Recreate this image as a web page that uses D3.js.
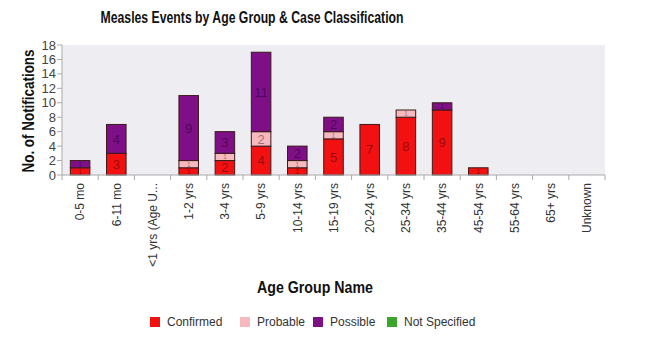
<!DOCTYPE html>
<html><head><meta charset="utf-8">
<script src="https://cdn.jsdelivr.net/npm/d3@7"></script>
<style>body{margin:0;background:#fff}svg{display:block}</style>
</head><body><svg id="c" width="650" height="338"></svg>
<script>
const categories = ["0-5 mo","6-11 mo","<1 yrs (Age U...","1-2 yrs","3-4 yrs","5-9 yrs","10-14 yrs","15-19 yrs","20-24 yrs","25-34 yrs","35-44 yrs","45-54 yrs","55-64 yrs","65+ yrs","Unknown"];
const seriesNames = ["Confirmed","Probable","Possible","Not Specified"];
const seriesColors = ["#f21010","#f7b8be","#7f0f87","#3aa52a"];
const confirmed    = [1,3,0,1,2,4,1,5,7,8,9,1,0,0,0];
const probable     = [0,0,0,1,1,2,1,1,0,1,0,0,0,0,0];
const possible     = [1,4,0,9,3,11,2,2,0,0,1,0,0,0,0];
const notSpecified = [0,0,0,0,0,0,0,0,0,0,0,0,0,0,0];
const yTicks = [0,2,4,6,8,10,12,14,16,18];

const svg = d3.select("#c");
const m = {l:62, t:45};
const pw = 605 - 62, ph = 175 - 45;
const g = svg.append("g").attr("transform",`translate(${m.l},${m.t})`);

const x = d3.scaleBand().domain(categories).range([0,pw]).paddingInner(0.46).paddingOuter(0.23);
const y = d3.scaleLinear().domain([0,18]).range([ph,0]);

g.append("rect").attr("width",pw).attr("height",ph).attr("fill","#eeeef2");

const rows = categories.map((c,i)=>({cat:c, Confirmed:confirmed[i], Probable:probable[i], Possible:possible[i], "Not Specified":notSpecified[i]}));
const stack = d3.stack().keys(seriesNames)(rows);

stack.forEach((layer,li)=>{
  const lg = g.append("g");
  layer.forEach(d=>{
    const v = d[1]-d[0];
    if(v<=0) return;
    lg.append("rect").attr("x",x(d.data.cat)).attr("y",y(d[1])).attr("width",x.bandwidth()).attr("height",y(d[0])-y(d[1]))
      .attr("fill",seriesColors[li]).attr("stroke","#3a1a1a").attr("stroke-width",1);
  });
});
stack.forEach((layer,li)=>{
  layer.forEach(d=>{
    const v = d[1]-d[0];
    if(v<=0) return;
    const h = y(d[0])-y(d[1]);
    g.append("text").attr("x",x(d.data.cat)+x.bandwidth()/2).attr("y",(y(d[0])+y(d[1]))/2)
      .attr("dy","0.36em").attr("text-anchor","middle").attr("font-family","Liberation Sans, Arial, sans-serif")
      .attr("font-size", h < 10 ? 7 : 13).attr("fill","#000").attr("fill-opacity",0.4).text(v);
  });
});

// x axis
const xa = g.append("g").attr("transform",`translate(0,${ph})`);
xa.append("line").attr("x1",0).attr("x2",pw).attr("stroke","#aaa");
const step = x.step();
d3.range(categories.length+1).forEach(i=>{
  const xx = x(categories[0]) - x.paddingInner()*step/2 + i*step;
  xa.append("line").attr("x1",xx).attr("x2",xx).attr("y1",0).attr("y2",5).attr("stroke","#aaa");
});
categories.forEach(c=>{
  xa.append("text").attr("transform",`translate(${x(c)+x.bandwidth()/2},8) rotate(-90)`)
    .attr("text-anchor","end").attr("dy","0.35em").attr("font-family","Liberation Sans, Arial, sans-serif")
    .attr("font-size",12).attr("fill","#333").text(c);
});

// y axis
const ya = g.append("g");
ya.append("line").attr("y1",0).attr("y2",ph).attr("stroke","#aaa");
yTicks.forEach(t=>{
  ya.append("line").attr("x1",-5).attr("x2",0).attr("y1",y(t)).attr("y2",y(t)).attr("stroke","#aaa");
  ya.append("text").attr("x",-6).attr("y",y(t)).attr("dy","0.35em").attr("text-anchor","end")
    .attr("font-family","Liberation Sans, Arial, sans-serif").attr("font-size",13).attr("fill","#444").text(t);
});

// titles
const bold = "Liberation Sans Narrow, Arial Narrow, Liberation Sans, Arial, sans-serif";
svg.append("text").attr("x",252).attr("y",23).attr("text-anchor","middle").attr("font-family",bold)
  .attr("font-weight","bold").attr("font-size",17).attr("fill","#111")
  .attr("textLength",303).attr("lengthAdjust","spacingAndGlyphs").text("Measles Events by Age Group & Case Classification");
svg.append("text").attr("transform","translate(34,111) rotate(-90)").attr("text-anchor","middle").attr("font-family",bold)
  .attr("font-weight","bold").attr("font-size",16).attr("fill","#111")
  .attr("textLength",123).attr("lengthAdjust","spacingAndGlyphs").text("No. of Notifications");
svg.append("text").attr("x",315).attr("y",293).attr("text-anchor","middle").attr("font-family",bold)
  .attr("font-weight","bold").attr("font-size",17).attr("fill","#111")
  .attr("textLength",116).attr("lengthAdjust","spacingAndGlyphs").text("Age Group Name");

// legend
const legX = [150,240,313,387];
seriesNames.forEach((s,i)=>{
  svg.append("rect").attr("x",legX[i]).attr("y",317).attr("width",10).attr("height",10).attr("fill",seriesColors[i]);
  svg.append("text").attr("x",legX[i]+17).attr("y",322).attr("dy","0.35em").attr("font-family","Liberation Sans, Arial, sans-serif")
    .attr("font-size",12).attr("fill","#333").text(s);
});
</script></body></html>
